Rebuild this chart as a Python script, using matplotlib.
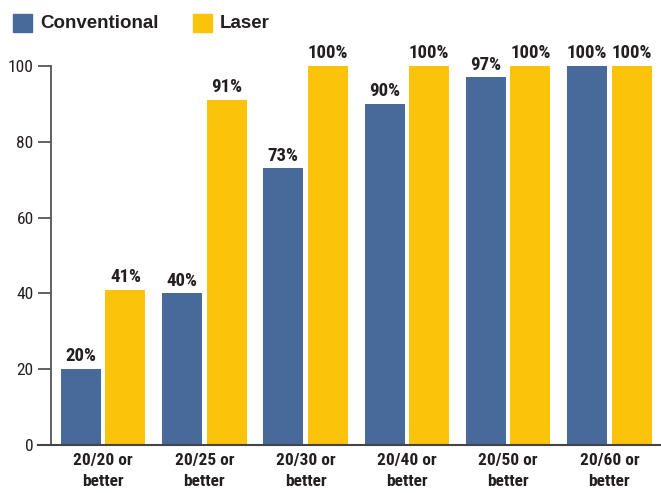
import numpy as np
import matplotlib.pyplot as plt
from matplotlib.patches import Rectangle

categories = ['20/20 or\nbetter', '20/25 or\nbetter', '20/30 or\nbetter',
              '20/40 or\nbetter', '20/50 or\nbetter', '20/60 or\nbetter']
conventional = [20, 40, 73, 90, 97, 100]
laser = [41, 91, 100, 100, 100, 100]
yticks = [0, 20, 40, 60, 80, 100]

blue = '#476a9a'
gold = '#fcc30b'
ink = '#231f20'
narrow = 'Roboto Condensed'

fig = plt.figure(figsize=(6.61, 4.93), dpi=100)
ax = fig.add_axes([51 / 661, 48 / 493, 609 / 661, 379 / 493])

x = np.arange(len(categories))
w = 0.396
b1 = ax.bar(x - 0.22, conventional, w, color=blue)
b2 = ax.bar(x + 0.22, laser, w, color=gold)

for bars, vals in ((b1, conventional), (b2, laser)):
    for r, v in zip(bars, vals):
        ax.text(r.get_x() + r.get_width() / 2, v + 1.0, f'{v}%',
                ha='center', va='bottom', fontsize=13.5, fontweight='bold',
                family=narrow, color=ink, clip_on=False)

ax.set_xlim(-0.515, 5.5)
ax.set_ylim(0, 100)
ax.set_yticks(yticks)
ax.set_yticklabels([str(t) for t in yticks], family=narrow, fontsize=12.5,
                   color=ink)
ax.set_xticks(x)
ax.set_xticklabels(categories, family=narrow, fontsize=12.5, fontweight='bold',
                   color=ink, linespacing=1.45)
ax.tick_params(axis='x', length=0, pad=6)
ax.tick_params(axis='y', length=9.5, width=1.3, color='#555555', pad=3)

for s in ('top', 'right'):
    ax.spines[s].set_visible(False)
ax.spines['left'].set_color('#555555')
ax.spines['left'].set_linewidth(1.3)
ax.spines['bottom'].set_color('#444444')
ax.spines['bottom'].set_linewidth(1.5)
ax.spines['bottom'].set_bounds(-0.64, 5.5)
ax.spines['bottom'].set_clip_on(False)

# legend drawn in figure pixels along the top
for px, label, c in ((13, 'Conventional', blue), (193, 'Laser', gold)):
    fig.patches.append(Rectangle((px / 661, 1 - 32 / 493), 19 / 661, 18 / 493,
                                 transform=fig.transFigure, color=c))
    fig.text((px + 27) / 661, 1 - 23 / 493, label, ha='left', va='center',
             fontsize=13.5, fontweight='bold', family='Liberation Sans',
             color=ink)

fig.savefig('out.png', dpi=100)
